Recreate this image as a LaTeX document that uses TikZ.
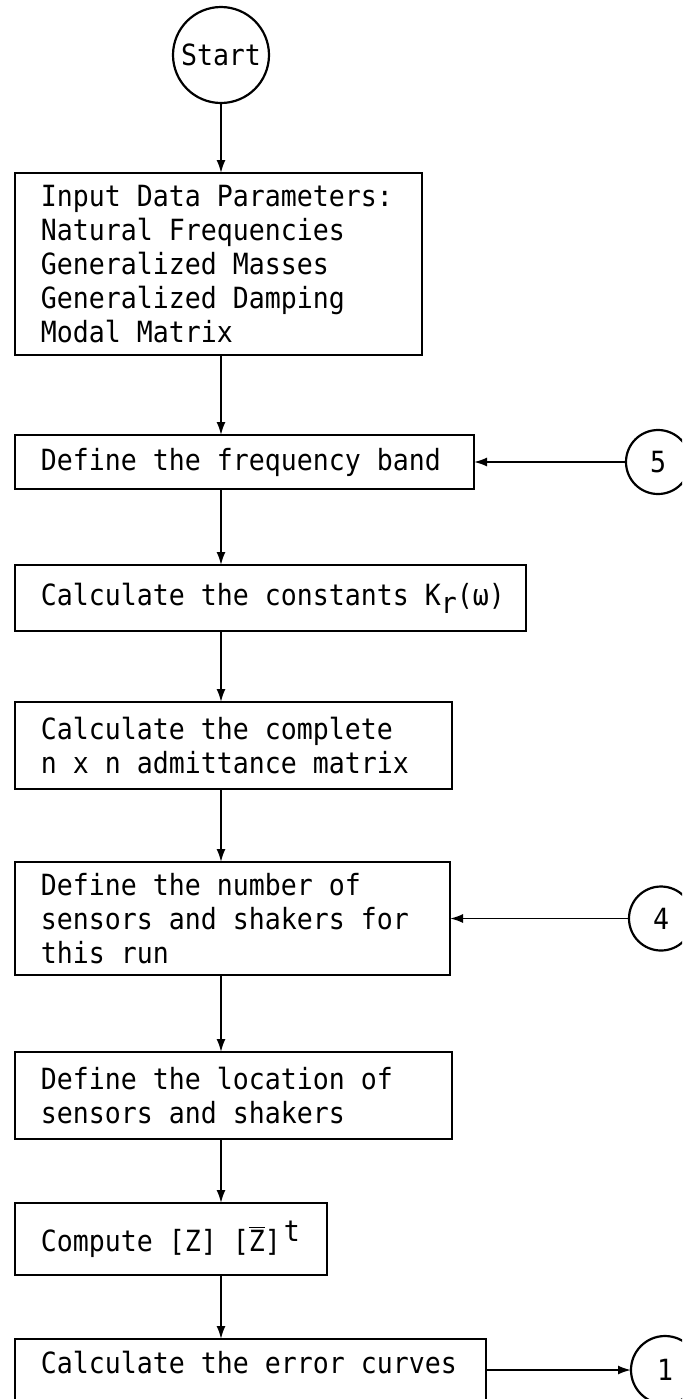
\documentclass[tikz,border=0pt]{standalone}
\usepackage{fontspec}
\newfontfamily\typewriter{DejaVu Sans Mono}[FakeStretch=0.91]
\usetikzlibrary{positioning,arrows.meta}

\begin{document}
\begin{tikzpicture}[x=0.5pt,y=-0.5pt]
  \tikzstyle{box}=[draw,line width=1.2pt,outer sep=0pt,align=left,inner xsep=0pt,inner ysep=3pt,font=\typewriter\fontsize{14.6}{17}\selectfont,execute at begin node={\leftskip=13pt\spaceskip=\fontcharwd\font`a\relax}]
  \tikzstyle{conn}=[draw,circle,line width=1.1pt,outer sep=0pt,inner sep=0pt,minimum size=32pt,font=\typewriter\fontsize{14.6}{17}\selectfont]
  \tikzstyle{flow}=[line width=0.9pt,-{Latex[length=6.5pt,width=4.5pt]}]
  \useasboundingbox (0,0) rectangle (682,1399);
  \clip (0,0) rectangle (682,1399);
  \node[conn,minimum size=48pt] (start) at (221,55) {Start};
  \node[box,text width=203.5pt,minimum height=91pt,anchor=north west] (input) at (15,173) {Input Data Parameters:\\Natural Frequencies\\Generalized Masses\\Generalized Damping\\Modal Matrix};
  \node[box,text width=229.5pt,minimum height=27pt,below=40pt of input.south west,anchor=north west] (band) {Define the frequency band};
  \node[box,text width=255.5pt,minimum height=33pt,below=38pt of band.south west,anchor=north west] (const) {Calculate the constants K\raisebox{-4pt}{r}(ω)};
  \node[box,text width=218.5pt,minimum height=43.5pt,below=35.5pt of const.south west,anchor=north west] (admit) {Calculate the complete\\n x n admittance matrix};
  \node[box,text width=217.5pt,minimum height=56.5pt,below=36.5pt of admit.south west,anchor=north west] (number) {Define the number of\\sensors and shakers for\\this run};
  \node[box,text width=218.5pt,minimum height=43.5pt,below=38.5pt of number.south west,anchor=north west] (location) {Define the location of\\sensors and shakers};
  \node[box,text width=156pt,minimum height=36pt,below=32pt of location.south west,anchor=north west] (compute) {Compute [Z] [$\overline{\hbox{Z}}$]\hspace{1.5pt}\raisebox{5pt}{t}};
  \node[box,text width=235.5pt,text depth=24pt,inner ysep=6pt,below=32pt of compute.south west,anchor=north west] (error) {Calculate the error curves};
  \node[conn] (five) at (658,0 |- band) {5};
  \node[conn] (four) at (661,0 |- number) {4};
  \node[conn,minimum size=34pt] (one) at (665,1370) {1};
  \draw[flow] (start) -- (start |- input.north);
  \draw[flow] (input.south -| start) -- (band.north -| start);
  \draw[flow] (band.south -| start) -- (const.north -| start);
  \draw[flow] (const.south -| start) -- (admit.north -| start);
  \draw[flow] (admit.south -| start) -- (number.north -| start);
  \draw[flow] (number.south -| start) -- (location.north -| start);
  \draw[flow] (location.south -| start) -- (compute.north -| start);
  \draw[flow] (compute.south -| start) -- (error.north -| start);
  \draw[flow] (five) -- (five -| band.east);
  \draw[flow] (four) -- (four -| number.east);
  \draw[flow] (error.east |- one) -- (one);
\end{tikzpicture}
\end{document}
